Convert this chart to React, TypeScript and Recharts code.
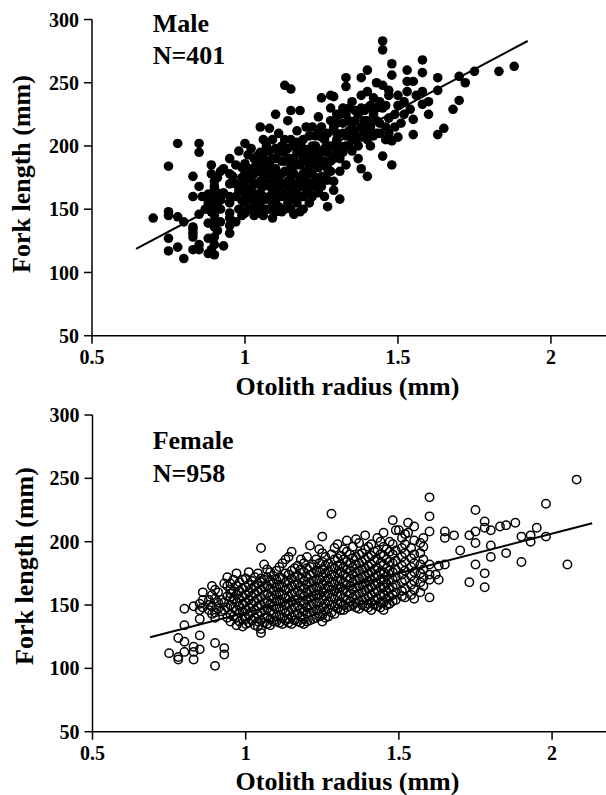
import React from 'react';
import { ScatterChart, Scatter, XAxis, YAxis, ReferenceLine } from 'recharts';

const xTicks = [0.5, 1, 1.5, 2];
const yTicks = [50, 100, 150, 200, 250, 300];

// Male: otolith radius (mm), fork length (mm)
const malePoints: [number, number][] = [
  [0.70,143],[0.75,145],[0.75,148],[0.78,144],[0.80,140],[0.75,127],[0.75,117],[0.78,120],[0.80,111],[0.83,136],
  [0.83,131],[0.83,118],[0.85,122],[0.85,118],[0.88,127],[0.88,115],[0.90,114],[0.90,136],[0.93,121],[0.95,131],
  [0.75,184],[0.78,202],[0.85,202],[0.85,195],[0.83,176],[0.85,168],[0.83,160],[0.89,178],[0.90,168],[0.92,180],
  [0.93,182],[0.95,190],[0.98,196],[1.00,202],[0.88,139],[0.83,134],[0.83,128],[0.85,146],[0.87,150],[0.88,155],
  [0.86,160],[0.90,145],[0.90,150],[0.90,155],[0.90,160],[0.90,165],[0.90,172],[0.90,128],[0.90,122],[0.90,140],
  [0.88,162],[0.92,150],[0.92,158],[0.92,140],[0.93,163],[0.95,147],[0.95,155],[0.95,160],[0.95,170],[0.96,176],
  [0.95,137],[0.95,143],[0.95,178],[0.97,140],[0.98,150],[0.98,165],[0.99,183],[0.99,157],[1.00,147],[1.00,155],
  [1.00,162],[1.00,170],[1.00,186],[1.00,178],[1.01,193],[1.02,150],[1.02,165],[1.02,175],[1.03,190],[1.03,183],
  [1.04,158],[1.04,170],[1.05,147],[1.05,180],[1.05,195],[1.05,215],[1.06,160],[1.06,185],[1.06,205],[1.07,150],
  [1.07,170],[1.07,200],[1.08,214],[1.08,178],[1.08,160],[1.09,190],[1.09,143],[1.10,225],[1.10,168],[1.10,182],
  [1.10,198],[1.10,155],[1.11,175],[1.11,210],[1.12,188],[1.12,160],[1.12,148],[1.13,248],[1.13,205],[1.13,170],
  [1.13,195],[1.14,180],[1.14,220],[1.14,155],[1.15,245],[1.15,228],[1.15,190],[1.15,165],[1.15,175],[1.16,200],
  [1.16,146],[1.17,185],[1.17,170],[1.17,212],[1.18,228],[1.18,160],[1.18,148],[1.18,195],[1.19,178],[1.19,190],
  [1.19,205],[1.20,215],[1.20,197],[1.20,165],[1.20,172],[1.21,185],[1.21,155],[1.22,190],[1.22,200],[1.22,178],
  [1.23,168],[1.23,208],[1.24,223],[1.24,183],[1.25,168],[1.25,176],[1.25,207],[1.25,195],[1.25,238],[1.26,188],
  [1.26,160],[1.27,173],[1.27,152],[1.28,240],[1.28,200],[1.28,180],[1.28,188],[1.29,165],[1.29,215],[1.29,239],
  [1.30,225],[1.30,195],[1.30,205],[1.31,158],[1.31,180],[1.32,230],[1.32,210],[1.33,254],[1.33,247],[1.33,185],
  [1.33,200],[1.34,220],[1.35,196],[1.35,215],[1.35,235],[1.36,205],[1.36,228],[1.37,190],[1.38,254],[1.38,207],
  [1.38,182],[1.38,240],[1.39,220],[1.40,260],[1.40,176],[1.40,230],[1.40,213],[1.40,243],[1.41,200],[1.42,225],
  [1.42,238],[1.43,250],[1.43,210],[1.44,218],[1.45,283],[1.45,276],[1.45,248],[1.45,192],[1.45,230],[1.46,205],
  [1.47,240],[1.47,222],[1.47,244],[1.48,265],[1.48,256],[1.48,204],[1.48,185],[1.49,215],[1.50,232],[1.50,207],
  [1.52,225],[1.53,260],[1.53,251],[1.54,229],[1.55,251],[1.55,221],[1.55,209],[1.56,240],[1.58,268],[1.58,258],
  [1.58,243],[1.58,233],[1.60,235],[1.60,225],[1.63,254],[1.63,244],[1.63,209],[1.65,214],[1.68,229],[1.70,255],
  [1.70,236],[1.72,250],[1.75,259],[1.83,259],[1.88,263],
  [0.89,148],[0.89,158],[0.91,163],[0.91,153],[0.91,133],[0.89,118],[0.91,175],[0.89,185],
  [0.97,160],[0.97,170],[0.97,185],[0.99,145],[0.99,168],[0.99,175],[1.01,150],[1.01,158],[1.01,166],[1.01,174],
  [1.01,182],[1.02,198],[1.03,145],[1.03,155],[1.03,162],[1.03,170],[1.03,178],[1.04,150],[1.04,185],[1.04,192],
  [1.05,155],[1.05,163],[1.05,172],[1.05,188],[1.06,145],[1.06,168],[1.06,177],[1.06,193],[1.07,158],[1.07,180],
  [1.07,188],[1.08,150],[1.08,168],[1.08,185],[1.08,196],[1.09,155],[1.09,163],[1.09,173],[1.09,182],[1.09,205],
  [1.10,148],[1.10,175],[1.10,190],[1.11,152],[1.11,160],[1.11,167],[1.11,195],[1.12,170],[1.12,178],[1.12,200],
  [1.13,150],[1.13,162],[1.13,180],[1.13,188],[1.14,165],[1.14,172],[1.14,198],[1.15,150],[1.15,158],[1.15,183],
  [1.15,205],[1.16,168],[1.16,178],[1.16,190],[1.17,155],[1.17,162],[1.17,195],[1.17,203],[1.18,168],[1.18,175],
  [1.18,185],[1.19,150],[1.19,160],[1.19,198],[1.20,180],[1.20,188],[1.21,163],[1.21,170],[1.21,178],[1.21,195],
  [1.21,208],[1.22,160],[1.22,170],[1.22,215],[1.23,175],[1.23,185],[1.23,195],[1.23,200],[1.24,163],[1.24,172],
  [1.24,190],[1.24,210],[1.25,185],[1.25,215],[1.26,175],[1.26,198],[1.26,205],[1.27,182],[1.27,195],[1.27,210],
  [1.28,220],[1.28,230],[1.29,172],[1.29,190],[1.29,200],[1.30,210],[1.30,218],[1.31,190],[1.31,200],[1.31,225],
  [1.32,195],[1.32,218],[1.33,208],[1.33,225],[1.34,200],[1.34,212],[1.34,230],[1.35,205],[1.36,212],[1.36,220],
  [1.37,200],[1.37,225],[1.38,215],[1.38,230],[1.39,210],[1.39,228],[1.40,205],[1.40,220],[1.41,215],[1.41,232],
  [1.42,208],[1.43,220],[1.43,230],[1.44,210],[1.44,235],[1.46,215],[1.46,232],[1.47,210],[1.49,225],[1.50,240],
  [1.51,218],[1.52,235],[1.53,243],
];

// Female: columns of otolith radius (mm) with fork lengths (mm)
const femaleColumns: [number, number[]][] = [
  [0.75, [112]], [0.78, [109, 107, 124]], [0.80, [121, 113, 134, 147]], [0.83, [117, 113, 107, 149]],
  [0.85, [115, 126, 146, 139, 151]], [0.86, [148, 154, 160]], [0.88, [154, 150, 146]],
  [0.89, [143, 149, 158, 165]], [0.90, [120, 102, 155, 162, 140, 144]], [0.91, [147, 152, 160]],
  [0.92, [145, 154]], [0.93, [116, 111, 152, 167, 146]], [0.94, [140, 148, 157, 165, 172]],
  [0.95, [137, 143, 150, 156, 159, 162, 167]], [0.96, [141, 148, 155, 161, 170]],
  [0.97, [134, 140, 146, 152, 158, 165, 175]], [0.98, [137, 144, 149, 155, 161, 168]],
  [0.99, [133, 139, 145, 151, 157, 163, 170]], [1.00, [135, 139, 146, 152, 158, 164, 171]],
  [1.01, [136, 142, 148, 154, 160, 166, 176]], [1.02, [138, 145, 151, 157, 163, 169]],
  [1.03, [134, 140, 146, 153, 159, 165, 172]], [1.04, [133, 137, 143, 149, 155, 161, 167, 175]],
  [1.05, [128, 131, 138, 144, 150, 156, 162, 168, 171, 195]], [1.06, [136, 140, 146, 152, 158, 164, 170, 182]],
  [1.07, [135, 141, 147, 153, 159, 165, 172, 178]], [1.08, [134, 139, 145, 151, 157, 163, 169, 176]],
  [1.09, [137, 143, 149, 155, 161, 167, 173]], [1.10, [137, 141, 147, 153, 158, 164, 170, 177]],
  [1.11, [136, 142, 148, 154, 160, 166, 172, 180]], [1.12, [135, 140, 146, 152, 158, 164, 171, 183]],
  [1.13, [138, 144, 150, 156, 162, 168, 175, 186]], [1.14, [136, 139, 145, 151, 157, 163, 169, 174, 188]],
  [1.15, [135, 141, 147, 153, 159, 165, 171, 177, 192]], [1.16, [138, 142, 148, 154, 160, 166, 172, 179]],
  [1.17, [137, 143, 149, 155, 161, 167, 173, 181]], [1.18, [136, 141, 147, 153, 159, 165, 171, 178, 186]],
  [1.19, [135, 139, 145, 151, 157, 163, 169, 176, 183]], [1.20, [137, 143, 148, 154, 160, 166, 172, 179, 188]],
  [1.21, [138, 144, 150, 156, 162, 168, 174, 180, 197]], [1.22, [139, 145, 151, 157, 163, 169, 175, 182]],
  [1.23, [140, 146, 152, 158, 164, 170, 177, 186]], [1.24, [141, 146, 152, 158, 164, 170, 176, 183, 194]],
  [1.25, [137, 142, 148, 154, 160, 166, 172, 178, 184, 191, 204]], [1.26, [140, 145, 151, 157, 163, 169, 175, 181, 188]],
  [1.27, [141, 147, 153, 159, 165, 171, 177, 183]], [1.28, [222, 144, 150, 156, 162, 168, 174, 180, 190]],
  [1.29, [143, 149, 155, 161, 167, 173, 179, 186, 195]], [1.30, [147, 151, 157, 163, 169, 175, 181, 187, 198]],
  [1.31, [146, 152, 158, 164, 170, 176, 182, 189]], [1.32, [146, 150, 156, 162, 168, 174, 180, 186, 194]],
  [1.33, [148, 154, 160, 166, 172, 178, 184, 192, 201]], [1.34, [149, 153, 159, 165, 171, 177, 183, 190]],
  [1.35, [150, 156, 162, 168, 174, 180, 187, 196]], [1.36, [148, 152, 158, 164, 170, 176, 182, 188, 202]],
  [1.37, [147, 153, 159, 165, 171, 177, 183, 190, 199]], [1.38, [150, 154, 160, 166, 172, 178, 184, 191]],
  [1.39, [149, 155, 161, 167, 173, 179, 186, 194, 205]], [1.40, [148, 151, 157, 163, 169, 175, 181, 188, 196]],
  [1.41, [146, 152, 158, 164, 170, 176, 182, 189, 198]], [1.42, [150, 154, 160, 166, 172, 178, 185, 192]],
  [1.43, [149, 155, 161, 167, 173, 179, 186, 193, 203]], [1.44, [148, 152, 158, 164, 170, 176, 183, 190, 200]],
  [1.45, [146, 152, 158, 164, 170, 176, 182, 189, 196, 207]], [1.46, [150, 155, 161, 167, 173, 179, 186, 194]],
  [1.47, [151, 157, 163, 170, 177, 184, 192, 200]], [1.48, [217, 153, 158, 164, 170, 176, 183, 190, 198]],
  [1.49, [154, 160, 166, 172, 178, 185, 193, 209]], [1.50, [209]], [1.51, [157, 161, 168, 174, 181, 188, 195, 203]],
  [1.52, [156, 163, 170, 177, 184, 191, 198, 206]], [1.53, [215, 207]], [1.54, [158, 166, 173, 180, 187, 195]],
  [1.55, [155, 162, 169, 176, 183, 190, 201, 212]], [1.57, [160, 168, 175, 182, 191, 199]],
  [1.58, [165, 172, 178, 186, 196, 203]], [1.60, [156, 170, 174, 182, 208, 220, 235]], [1.62, [174]],
  [1.63, [181, 170]], [1.65, [208, 203, 182]], [1.68, [205]], [1.70, [193]], [1.73, [205, 168]],
  [1.75, [208, 199, 182, 225]], [1.78, [216, 211, 175, 164]], [1.80, [209, 197, 188]], [1.83, [212]],
  [1.85, [213, 191]], [1.88, [215]], [1.90, [204, 184]], [1.93, [205, 200]], [1.95, [211]],
  [1.98, [204, 230]], [2.05, [182]], [2.08, [249]],
];

const maleFit = [{ x: 0.644, y: 118.6 }, { x: 1.924, y: 283 }];
const femaleFit = [{ x: 0.688, y: 124.5 }, { x: 2.131, y: 214.5 }];

const maleData = malePoints.map(([x, y]) => ({ x, y }));
const femaleData = femaleColumns.flatMap(([x, ys]) => ys.map((y) => ({ x, y })));

const FONT = '"Liberation Serif", "Times New Roman", serif';
const tickStyle = { fill: '#000', fontSize: 20, fontWeight: 700, fontFamily: FONT };
const axisLineStyle = { stroke: '#000', strokeWidth: 1.5 };

const FilledDot = (props: any) => <circle cx={props.cx} cy={props.cy} r={4.8} fill="#000" />;
const OpenDot = (props: any) => (
  <circle cx={props.cx} cy={props.cy} r={4.2} fill="none" stroke="#000" strokeWidth={1.5} />
);

function Panel(props: {
  data: { x: number; y: number }[];
  fit: { x: number; y: number }[];
  filled: boolean;
  height: number;
  marginTop: number;
  xAxisHeight: number;
  yAxisWidth: number;
  xMax: number;
}) {
  const { data, fit, filled, height, marginTop, xAxisHeight, yAxisWidth, xMax } = props;
  return (
    <ScatterChart width={606} height={height} margin={{ top: marginTop, right: 0, bottom: 0, left: 0 }}>
      <XAxis
        type="number"
        dataKey="x"
        domain={[0.5, xMax]}
        ticks={xTicks}
        allowDataOverflow
        height={xAxisHeight}
        tick={tickStyle}
        tickSize={8}
        tickMargin={6}
        axisLine={axisLineStyle}
        tickLine={axisLineStyle}
        tickFormatter={(v: number) => String(v)}
      />
      <YAxis
        type="number"
        dataKey="y"
        domain={[50, 300]}
        ticks={yTicks}
        allowDataOverflow
        width={yAxisWidth}
        tick={tickStyle}
        tickSize={8}
        tickMargin={5}
        axisLine={axisLineStyle}
        tickLine={axisLineStyle}
      />
      <Scatter data={data} isAnimationActive={false} shape={filled ? FilledDot : OpenDot} />
      <ReferenceLine segment={[fit[0], fit[1]]} stroke="#000" strokeWidth={2} ifOverflow="visible" />
    </ScatterChart>
  );
}

const labelStyle = { fontFamily: FONT, fontWeight: 700, fontSize: 26, fill: '#000' } as const;

export default function App() {
  return (
    <div style={{ position: 'absolute', left: 0, top: 0, width: 606, height: 795, background: '#fff' }}>
      <div style={{ position: 'absolute', left: 0, top: 0 }}>
        <Panel data={maleData} fit={maleFit} filled height={397} marginTop={19.5} xAxisHeight={61.3} yAxisWidth={92} xMax={2.18} />
      </div>
      <div style={{ position: 'absolute', left: 0, top: 397 }}>
        <Panel data={femaleData} fit={femaleFit} filled={false} height={398} marginTop={18} xAxisHeight={63.3} yAxisWidth={92.5} xMax={2.176} />
      </div>
      <svg width={606} height={795} style={{ position: 'absolute', left: 0, top: 0, pointerEvents: 'none' }}>
        <text x={152.7} y={32.3} style={labelStyle}>Male</text>
        <text x={152.7} y={64.3} style={labelStyle}>N=401</text>
        <text x={152.7} y={449} style={labelStyle}>Female</text>
        <text x={152.7} y={481.7} style={labelStyle}>N=958</text>
        <text x={347.5} y={395} textAnchor="middle" style={labelStyle}>Otolith radius (mm)</text>
        <text x={347.5} y={789.5} textAnchor="middle" style={labelStyle}>Otolith radius (mm)</text>
        <text transform="translate(30,174) rotate(-90)" textAnchor="middle" style={labelStyle}>Fork length (mm)</text>
        <text transform="translate(33,566) rotate(-90)" textAnchor="middle" style={labelStyle}>Fork length (mm)</text>
      </svg>
    </div>
  );
}
